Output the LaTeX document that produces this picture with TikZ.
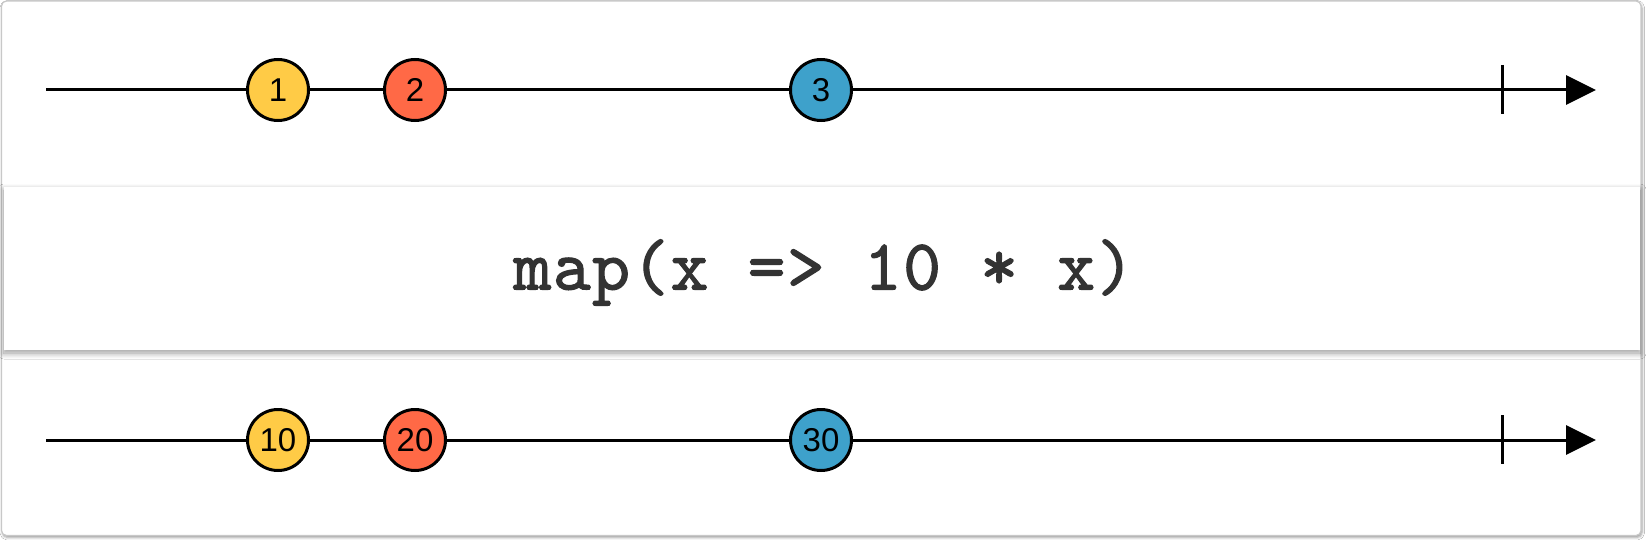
\documentclass[tikz,border=0pt]{standalone}
\usepackage{fontspec}
\newfontfamily\circlefont{Liberation Sans}
\newfontfamily\codefont{lmmono10-regular.otf}[LetterSpace=2,FakeBold=1.6]
\usetikzlibrary{arrows.meta,shadows.blur}
\definecolor{mYellow}{HTML}{FFCB46}
\definecolor{mRed}{HTML}{FF6946}
\definecolor{mBlue}{HTML}{3EA1CB}
\definecolor{codeGray}{HTML}{333333}
\definecolor{frameGray}{HTML}{C8C8C8}
\tikzset{
  timeline/.style={line width=3pt, draw=black, -{Triangle[length=30pt,width=29pt]}},
  tickline/.style={line width=3pt, draw=black},
  marble/.style={circle, draw=black, line width=3pt, minimum size=61pt, inner sep=0pt,
    font=\circlefont\fontsize{33}{33}\selectfont, text=black},
  card/.style={draw=frameGray, line width=1.2pt, fill=white, rounded corners=5pt,
    blur shadow={shadow xshift=1pt, shadow yshift=-2pt, shadow blur radius=2.5pt, shadow opacity=40}},
  opbox/.style={fill=white, draw=none,
    blur shadow={shadow xshift=0pt, shadow yshift=-3pt, shadow blur radius=6pt, shadow blur steps=10, shadow opacity=40}},
  codetext/.style={font=\codefont\fontsize{72}{72}\selectfont, text=codeGray, inner sep=0pt},
}
\begin{document}
\begin{tikzpicture}[x=1pt,y=-1pt]
\useasboundingbox (0,0) rectangle (1646,540);
\fill[white] (0,0) rectangle (1646,540);
% outer card
\path[card] (1.5,1) rectangle (1641,535.5);
% operator box
\path[opbox] (4,187) rectangle (1640,350);
\node[codetext, anchor=base] (code) at (824,289.5) {map(x => 10 * x)};
% top timeline
\coordinate (s1) at (46,90);
\coordinate (e1) at (1596,90);
\coordinate (t1a) at (1502,65);
\coordinate (t1b) at (1502,114);
\draw[timeline] (s1) -- (e1);
\draw[tickline] (t1a) -- (t1b);
\node[marble, fill=mYellow] (a1) at (278,90) {1};
\node[marble, fill=mRed] (a2) at (415,90) {2};
\node[marble, fill=mBlue] (a3) at (821,90) {3};
% bottom timeline
\coordinate (s2) at (46,440);
\coordinate (e2) at (1596,440);
\coordinate (t2a) at (1502,415);
\coordinate (t2b) at (1502,464);
\draw[timeline] (s2) -- (e2);
\draw[tickline] (t2a) -- (t2b);
\node[marble, fill=mYellow] (b1) at (278,440) {10};
\node[marble, fill=mRed] (b2) at (415,440) {20};
\node[marble, fill=mBlue] (b3) at (821,440) {30};
\end{tikzpicture}
\end{document}
